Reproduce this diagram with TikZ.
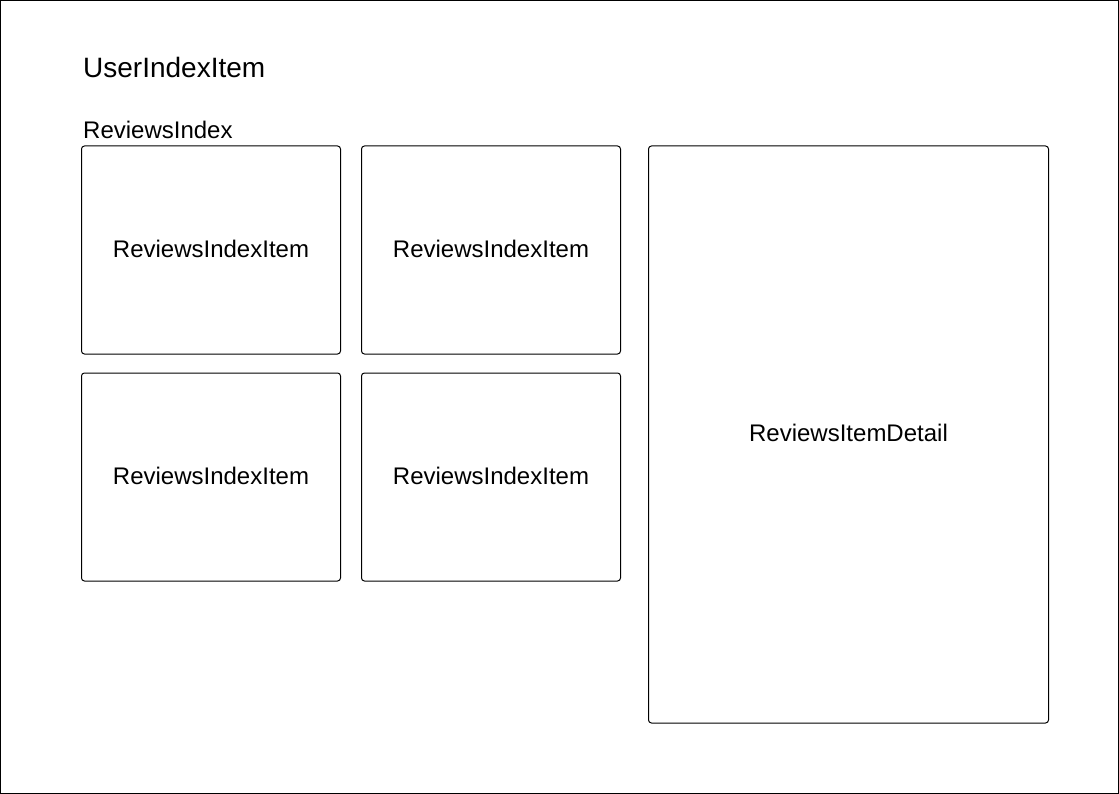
\documentclass[tikz,border=0pt]{standalone}
\usepackage{fontspec}
\setmainfont{Liberation Sans}
\begin{document}
\begin{tikzpicture}[x=1pt,y=-1pt,
  box/.style={draw=black,line width=1pt,rounded corners=3pt},
  lbl/.style={font=\fontsize{24}{28}\selectfont,inner sep=0pt,yshift=1.5pt},
  title/.style={font=\fontsize{28}{32}\selectfont,inner sep=0pt,anchor=west},
  sub/.style={font=\fontsize{24}{28}\selectfont,inner sep=0pt,anchor=west}]
\useasboundingbox (0,0) rectangle (1119,794);
\draw[line width=1pt] (0.5,0.5) rectangle (1118.5,793.5);
\node[title] (user) at (83,67) {UserIndexItem};
\node[sub] (ri) at (83,130) {ReviewsIndex};
\draw[box] (81.5,146) rectangle (340.5,354) node[lbl,midway] (a) {ReviewsIndexItem};
\draw[box] (361.5,146) rectangle (620.5,354) node[lbl,midway] (b) {ReviewsIndexItem};
\draw[box] (81.5,373) rectangle (340.5,581) node[lbl,midway] (c) {ReviewsIndexItem};
\draw[box] (361.5,373) rectangle (620.5,581) node[lbl,midway] (d) {ReviewsIndexItem};
\draw[box] (648.5,146) rectangle (1048.5,723) node[lbl,midway] (e) {ReviewsItemDetail};
\end{tikzpicture}
\end{document}
